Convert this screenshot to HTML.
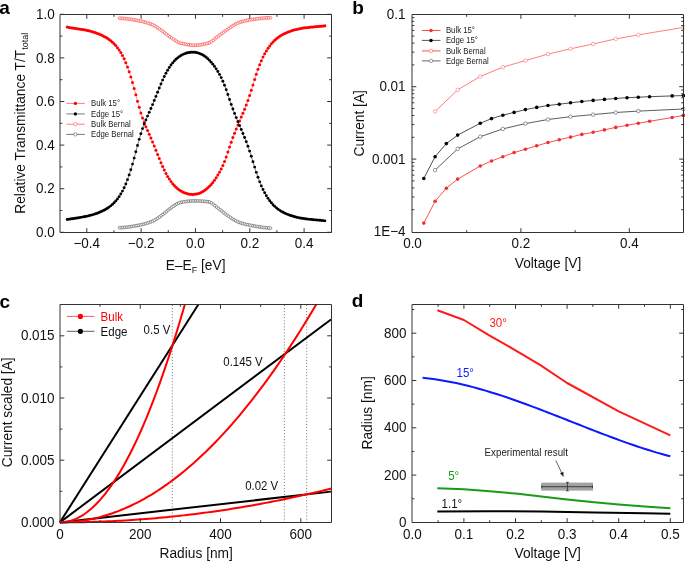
<!DOCTYPE html>
<html><head><meta charset="utf-8"><style>
html,body{margin:0;padding:0;background:#fff;}
body{width:685px;height:561px;overflow:hidden;}
svg{display:block;font-family:"Liberation Sans", sans-serif;will-change:transform;}
</style></head><body>
<svg width="685" height="561" viewBox="0 0 685 561">
<rect width="685" height="561" fill="#fff"/>
<g>
<path d="M119.67 18.22 L121.41 18.3 L123.14 18.42 L124.87 18.58 L126.6 18.76 L128.34 18.98 L130.07 19.22 L131.8 19.49 L133.53 19.77 L135.27 20.06 L137 20.37 L138.73 20.68 L140.47 21.03 L142.2 21.42 L143.93 21.85 L145.66 22.34 L147.4 22.88 L149.13 23.46 L150.86 24.1 L152.59 24.79 L154.33 25.63 L156.06 26.66 L157.79 27.82 L159.52 29.05 L161.26 30.29 L162.99 31.53 L164.72 32.86 L166.45 34.24 L168.19 35.6 L169.92 36.89 L171.65 38.05 L173.38 39.24 L175.12 40.41 L176.85 41.48 L178.58 42.38 L180.32 43.02 L182.05 43.46 L183.78 43.87 L185.51 44.25 L187.25 44.58 L188.98 44.85 L190.71 45.06 L192.44 45.2 L194.18 45.26 L195.91 45.22 L197.64 45.11 L199.37 44.93 L201.11 44.69 L202.84 44.38 L204.57 44.03 L206.3 43.63 L208.04 43.19 L209.77 42.59 L211.5 41.55 L213.24 40.22 L214.97 38.76 L216.7 37.31 L218.43 36.02 L220.17 34.73 L221.9 33.41 L223.63 32.11 L225.36 30.84 L227.1 29.65 L228.83 28.48 L230.56 27.29 L232.29 26.12 L234.03 25.01 L235.76 24 L237.49 23.14 L239.22 22.48 L240.96 21.91 L242.69 21.41 L244.42 20.95 L246.15 20.55 L247.89 20.2 L249.62 19.9 L251.35 19.64 L253.09 19.39 L254.82 19.14 L256.55 18.91 L258.28 18.69 L260.02 18.48 L261.75 18.3 L263.48 18.13 L265.21 18 L266.95 17.89 L268.68 17.82 L270.41 17.79" fill="none" stroke="#ff8080" stroke-width="0.5" stroke-linejoin="round"/>
<g fill="#fff" stroke="#ff4a4a" stroke-width="0.7"><circle cx="119.67" cy="18.22" r="1.4"/><circle cx="121.41" cy="18.3" r="1.4"/><circle cx="123.14" cy="18.42" r="1.4"/><circle cx="124.87" cy="18.58" r="1.4"/><circle cx="126.6" cy="18.76" r="1.4"/><circle cx="128.34" cy="18.98" r="1.4"/><circle cx="130.07" cy="19.22" r="1.4"/><circle cx="131.8" cy="19.49" r="1.4"/><circle cx="133.53" cy="19.77" r="1.4"/><circle cx="135.27" cy="20.06" r="1.4"/><circle cx="137" cy="20.37" r="1.4"/><circle cx="138.73" cy="20.68" r="1.4"/><circle cx="140.47" cy="21.03" r="1.4"/><circle cx="142.2" cy="21.42" r="1.4"/><circle cx="143.93" cy="21.85" r="1.4"/><circle cx="145.66" cy="22.34" r="1.4"/><circle cx="147.4" cy="22.88" r="1.4"/><circle cx="149.13" cy="23.46" r="1.4"/><circle cx="150.86" cy="24.1" r="1.4"/><circle cx="152.59" cy="24.79" r="1.4"/><circle cx="154.33" cy="25.63" r="1.4"/><circle cx="156.06" cy="26.66" r="1.4"/><circle cx="157.79" cy="27.82" r="1.4"/><circle cx="159.52" cy="29.05" r="1.4"/><circle cx="161.26" cy="30.29" r="1.4"/><circle cx="162.99" cy="31.53" r="1.4"/><circle cx="164.72" cy="32.86" r="1.4"/><circle cx="166.45" cy="34.24" r="1.4"/><circle cx="168.19" cy="35.6" r="1.4"/><circle cx="169.92" cy="36.89" r="1.4"/><circle cx="171.65" cy="38.05" r="1.4"/><circle cx="173.38" cy="39.24" r="1.4"/><circle cx="175.12" cy="40.41" r="1.4"/><circle cx="176.85" cy="41.48" r="1.4"/><circle cx="178.58" cy="42.38" r="1.4"/><circle cx="180.32" cy="43.02" r="1.4"/><circle cx="182.05" cy="43.46" r="1.4"/><circle cx="183.78" cy="43.87" r="1.4"/><circle cx="185.51" cy="44.25" r="1.4"/><circle cx="187.25" cy="44.58" r="1.4"/><circle cx="188.98" cy="44.85" r="1.4"/><circle cx="190.71" cy="45.06" r="1.4"/><circle cx="192.44" cy="45.2" r="1.4"/><circle cx="194.18" cy="45.26" r="1.4"/><circle cx="195.91" cy="45.22" r="1.4"/><circle cx="197.64" cy="45.11" r="1.4"/><circle cx="199.37" cy="44.93" r="1.4"/><circle cx="201.11" cy="44.69" r="1.4"/><circle cx="202.84" cy="44.38" r="1.4"/><circle cx="204.57" cy="44.03" r="1.4"/><circle cx="206.3" cy="43.63" r="1.4"/><circle cx="208.04" cy="43.19" r="1.4"/><circle cx="209.77" cy="42.59" r="1.4"/><circle cx="211.5" cy="41.55" r="1.4"/><circle cx="213.24" cy="40.22" r="1.4"/><circle cx="214.97" cy="38.76" r="1.4"/><circle cx="216.7" cy="37.31" r="1.4"/><circle cx="218.43" cy="36.02" r="1.4"/><circle cx="220.17" cy="34.73" r="1.4"/><circle cx="221.9" cy="33.41" r="1.4"/><circle cx="223.63" cy="32.11" r="1.4"/><circle cx="225.36" cy="30.84" r="1.4"/><circle cx="227.1" cy="29.65" r="1.4"/><circle cx="228.83" cy="28.48" r="1.4"/><circle cx="230.56" cy="27.29" r="1.4"/><circle cx="232.29" cy="26.12" r="1.4"/><circle cx="234.03" cy="25.01" r="1.4"/><circle cx="235.76" cy="24" r="1.4"/><circle cx="237.49" cy="23.14" r="1.4"/><circle cx="239.22" cy="22.48" r="1.4"/><circle cx="240.96" cy="21.91" r="1.4"/><circle cx="242.69" cy="21.41" r="1.4"/><circle cx="244.42" cy="20.95" r="1.4"/><circle cx="246.15" cy="20.55" r="1.4"/><circle cx="247.89" cy="20.2" r="1.4"/><circle cx="249.62" cy="19.9" r="1.4"/><circle cx="251.35" cy="19.64" r="1.4"/><circle cx="253.09" cy="19.39" r="1.4"/><circle cx="254.82" cy="19.14" r="1.4"/><circle cx="256.55" cy="18.91" r="1.4"/><circle cx="258.28" cy="18.69" r="1.4"/><circle cx="260.02" cy="18.48" r="1.4"/><circle cx="261.75" cy="18.3" r="1.4"/><circle cx="263.48" cy="18.13" r="1.4"/><circle cx="265.21" cy="18" r="1.4"/><circle cx="266.95" cy="17.89" r="1.4"/><circle cx="268.68" cy="17.82" r="1.4"/><circle cx="270.41" cy="17.79" r="1.4"/></g>
<path d="M119.67 227.72 L121.41 227.64 L123.14 227.52 L124.87 227.37 L126.6 227.18 L128.34 226.96 L130.07 226.72 L131.8 226.46 L133.53 226.18 L135.27 225.88 L137 225.58 L138.73 225.27 L140.47 224.92 L142.2 224.53 L143.93 224.09 L145.66 223.61 L147.4 223.07 L149.13 222.49 L150.86 221.85 L152.59 221.16 L154.33 220.32 L156.06 219.3 L157.79 218.15 L159.52 216.92 L161.26 215.66 L162.99 214.38 L164.72 212.97 L166.45 211.49 L168.19 210.02 L169.92 208.65 L171.65 207.44 L173.38 206.22 L175.12 205.02 L176.85 203.92 L178.58 203.04 L180.32 202.47 L182.05 202.15 L183.78 201.85 L185.51 201.59 L187.25 201.36 L188.98 201.17 L190.71 201.03 L192.44 200.94 L194.18 200.91 L195.91 200.92 L197.64 200.96 L199.37 201.02 L201.11 201.11 L202.84 201.23 L204.57 201.37 L206.3 201.54 L208.04 201.73 L209.77 202.11 L211.5 203 L213.24 204.25 L214.97 205.68 L216.7 207.11 L218.43 208.4 L220.17 209.75 L221.9 211.16 L223.63 212.58 L225.36 213.94 L227.1 215.21 L228.83 216.39 L230.56 217.59 L232.29 218.75 L234.03 219.84 L235.76 220.84 L237.49 221.69 L239.22 222.39 L240.96 222.97 L242.69 223.5 L244.42 223.97 L246.15 224.4 L247.89 224.78 L249.62 225.14 L251.35 225.47 L253.09 225.79 L254.82 226.1 L256.55 226.41 L258.28 226.7 L260.02 226.97 L261.75 227.22 L263.48 227.46 L265.21 227.67 L266.95 227.86 L268.68 228.02 L270.41 228.16" fill="none" stroke="#888" stroke-width="0.5" stroke-linejoin="round"/>
<g fill="#fff" stroke="#666" stroke-width="0.7"><circle cx="119.67" cy="227.72" r="1.4"/><circle cx="121.41" cy="227.64" r="1.4"/><circle cx="123.14" cy="227.52" r="1.4"/><circle cx="124.87" cy="227.37" r="1.4"/><circle cx="126.6" cy="227.18" r="1.4"/><circle cx="128.34" cy="226.96" r="1.4"/><circle cx="130.07" cy="226.72" r="1.4"/><circle cx="131.8" cy="226.46" r="1.4"/><circle cx="133.53" cy="226.18" r="1.4"/><circle cx="135.27" cy="225.88" r="1.4"/><circle cx="137" cy="225.58" r="1.4"/><circle cx="138.73" cy="225.27" r="1.4"/><circle cx="140.47" cy="224.92" r="1.4"/><circle cx="142.2" cy="224.53" r="1.4"/><circle cx="143.93" cy="224.09" r="1.4"/><circle cx="145.66" cy="223.61" r="1.4"/><circle cx="147.4" cy="223.07" r="1.4"/><circle cx="149.13" cy="222.49" r="1.4"/><circle cx="150.86" cy="221.85" r="1.4"/><circle cx="152.59" cy="221.16" r="1.4"/><circle cx="154.33" cy="220.32" r="1.4"/><circle cx="156.06" cy="219.3" r="1.4"/><circle cx="157.79" cy="218.15" r="1.4"/><circle cx="159.52" cy="216.92" r="1.4"/><circle cx="161.26" cy="215.66" r="1.4"/><circle cx="162.99" cy="214.38" r="1.4"/><circle cx="164.72" cy="212.97" r="1.4"/><circle cx="166.45" cy="211.49" r="1.4"/><circle cx="168.19" cy="210.02" r="1.4"/><circle cx="169.92" cy="208.65" r="1.4"/><circle cx="171.65" cy="207.44" r="1.4"/><circle cx="173.38" cy="206.22" r="1.4"/><circle cx="175.12" cy="205.02" r="1.4"/><circle cx="176.85" cy="203.92" r="1.4"/><circle cx="178.58" cy="203.04" r="1.4"/><circle cx="180.32" cy="202.47" r="1.4"/><circle cx="182.05" cy="202.15" r="1.4"/><circle cx="183.78" cy="201.85" r="1.4"/><circle cx="185.51" cy="201.59" r="1.4"/><circle cx="187.25" cy="201.36" r="1.4"/><circle cx="188.98" cy="201.17" r="1.4"/><circle cx="190.71" cy="201.03" r="1.4"/><circle cx="192.44" cy="200.94" r="1.4"/><circle cx="194.18" cy="200.91" r="1.4"/><circle cx="195.91" cy="200.92" r="1.4"/><circle cx="197.64" cy="200.96" r="1.4"/><circle cx="199.37" cy="201.02" r="1.4"/><circle cx="201.11" cy="201.11" r="1.4"/><circle cx="202.84" cy="201.23" r="1.4"/><circle cx="204.57" cy="201.37" r="1.4"/><circle cx="206.3" cy="201.54" r="1.4"/><circle cx="208.04" cy="201.73" r="1.4"/><circle cx="209.77" cy="202.11" r="1.4"/><circle cx="211.5" cy="203" r="1.4"/><circle cx="213.24" cy="204.25" r="1.4"/><circle cx="214.97" cy="205.68" r="1.4"/><circle cx="216.7" cy="207.11" r="1.4"/><circle cx="218.43" cy="208.4" r="1.4"/><circle cx="220.17" cy="209.75" r="1.4"/><circle cx="221.9" cy="211.16" r="1.4"/><circle cx="223.63" cy="212.58" r="1.4"/><circle cx="225.36" cy="213.94" r="1.4"/><circle cx="227.1" cy="215.21" r="1.4"/><circle cx="228.83" cy="216.39" r="1.4"/><circle cx="230.56" cy="217.59" r="1.4"/><circle cx="232.29" cy="218.75" r="1.4"/><circle cx="234.03" cy="219.84" r="1.4"/><circle cx="235.76" cy="220.84" r="1.4"/><circle cx="237.49" cy="221.69" r="1.4"/><circle cx="239.22" cy="222.39" r="1.4"/><circle cx="240.96" cy="222.97" r="1.4"/><circle cx="242.69" cy="223.5" r="1.4"/><circle cx="244.42" cy="223.97" r="1.4"/><circle cx="246.15" cy="224.4" r="1.4"/><circle cx="247.89" cy="224.78" r="1.4"/><circle cx="249.62" cy="225.14" r="1.4"/><circle cx="251.35" cy="225.47" r="1.4"/><circle cx="253.09" cy="225.79" r="1.4"/><circle cx="254.82" cy="226.1" r="1.4"/><circle cx="256.55" cy="226.41" r="1.4"/><circle cx="258.28" cy="226.7" r="1.4"/><circle cx="260.02" cy="226.97" r="1.4"/><circle cx="261.75" cy="227.22" r="1.4"/><circle cx="263.48" cy="227.46" r="1.4"/><circle cx="265.21" cy="227.67" r="1.4"/><circle cx="266.95" cy="227.86" r="1.4"/><circle cx="268.68" cy="228.02" r="1.4"/><circle cx="270.41" cy="228.16" r="1.4"/></g>
<path d="M67.25 27.12 L68.93 27.39 L70.6 27.65 L72.27 27.91 L73.95 28.16 L75.62 28.41 L77.29 28.66 L78.97 28.92 L80.64 29.19 L82.31 29.48 L83.99 29.79 L85.66 30.12 L87.33 30.48 L89 30.87 L90.68 31.29 L92.35 31.75 L94.02 32.26 L95.7 32.81 L97.37 33.42 L99.04 34.08 L100.72 34.79 L102.39 35.57 L104.06 36.42 L105.74 37.34 L107.41 38.36 L109.08 39.49 L110.75 40.76 L112.43 42.19 L114.1 43.79 L115.77 45.61 L117.45 47.65 L119.12 49.94 L120.79 52.54 L122.47 55.5 L124.14 58.85 L125.81 62.65 L127.48 66.93 L129.16 71.69 L130.83 76.88 L132.5 82.49 L134.18 88.49 L135.85 94.8 L137.52 101.16 L139.2 107.27 L140.87 112.9 L142.54 118 L144.22 122.58 L145.89 126.69 L147.56 130.51 L149.23 134.24 L150.91 138.07 L152.58 142.01 L154.25 146.06 L155.93 150.22 L157.6 154.42 L159.27 158.58 L160.95 162.63 L162.62 166.5 L164.29 170.11 L165.97 173.41 L167.64 176.4 L169.31 179.1 L170.98 181.53 L172.66 183.69 L174.33 185.61 L176 187.29 L177.68 188.76 L179.35 190.02 L181.02 191.09 L182.7 191.99 L184.37 192.73 L186.04 193.33 L187.71 193.79 L189.39 194.13 L191.06 194.34 L192.73 194.4 L194.41 194.32 L196.08 194.1 L197.75 193.72 L199.43 193.17 L201.1 192.47 L202.77 191.59 L204.45 190.53 L206.12 189.3 L207.79 187.87 L209.46 186.26 L211.14 184.44 L212.81 182.43 L214.48 180.21 L216.16 177.77 L217.83 175.11 L219.5 172.21 L221.18 169 L222.85 165.42 L224.52 161.42 L226.2 156.93 L227.87 152.05 L229.54 147.05 L231.21 142.19 L232.89 137.59 L234.56 133.21 L236.23 129.01 L237.91 124.95 L239.58 120.99 L241.25 117.09 L242.93 113.17 L244.6 109.16 L246.27 104.94 L247.94 100.41 L249.62 95.51 L251.29 90.29 L252.96 84.9 L254.64 79.5 L256.31 74.24 L257.98 69.28 L259.66 64.74 L261.33 60.68 L263 57.05 L264.68 53.8 L266.35 50.89 L268.02 48.27 L269.69 45.92 L271.37 43.81 L273.04 41.92 L274.71 40.25 L276.39 38.75 L278.06 37.43 L279.73 36.26 L281.41 35.22 L283.08 34.29 L284.75 33.46 L286.43 32.7 L288.1 32.01 L289.77 31.38 L291.44 30.81 L293.12 30.29 L294.79 29.82 L296.46 29.39 L298.14 29.01 L299.81 28.67 L301.48 28.37 L303.16 28.09 L304.83 27.85 L306.5 27.63 L308.17 27.43 L309.85 27.24 L311.52 27.07 L313.19 26.91 L314.87 26.76 L316.54 26.61 L318.21 26.45 L319.89 26.29 L321.56 26.13 L323.23 25.95 L324.91 25.75" fill="none" stroke="#ff3030" stroke-width="0.5" stroke-linejoin="round"/>
<g fill="#ff0000"><circle cx="67.25" cy="27.12" r="1.5"/><circle cx="68.93" cy="27.39" r="1.5"/><circle cx="70.6" cy="27.65" r="1.5"/><circle cx="72.27" cy="27.91" r="1.5"/><circle cx="73.95" cy="28.16" r="1.5"/><circle cx="75.62" cy="28.41" r="1.5"/><circle cx="77.29" cy="28.66" r="1.5"/><circle cx="78.97" cy="28.92" r="1.5"/><circle cx="80.64" cy="29.19" r="1.5"/><circle cx="82.31" cy="29.48" r="1.5"/><circle cx="83.99" cy="29.79" r="1.5"/><circle cx="85.66" cy="30.12" r="1.5"/><circle cx="87.33" cy="30.48" r="1.5"/><circle cx="89" cy="30.87" r="1.5"/><circle cx="90.68" cy="31.29" r="1.5"/><circle cx="92.35" cy="31.75" r="1.5"/><circle cx="94.02" cy="32.26" r="1.5"/><circle cx="95.7" cy="32.81" r="1.5"/><circle cx="97.37" cy="33.42" r="1.5"/><circle cx="99.04" cy="34.08" r="1.5"/><circle cx="100.72" cy="34.79" r="1.5"/><circle cx="102.39" cy="35.57" r="1.5"/><circle cx="104.06" cy="36.42" r="1.5"/><circle cx="105.74" cy="37.34" r="1.5"/><circle cx="107.41" cy="38.36" r="1.5"/><circle cx="109.08" cy="39.49" r="1.5"/><circle cx="110.75" cy="40.76" r="1.5"/><circle cx="112.43" cy="42.19" r="1.5"/><circle cx="114.1" cy="43.79" r="1.5"/><circle cx="115.77" cy="45.61" r="1.5"/><circle cx="117.45" cy="47.65" r="1.5"/><circle cx="119.12" cy="49.94" r="1.5"/><circle cx="120.79" cy="52.54" r="1.5"/><circle cx="122.47" cy="55.5" r="1.5"/><circle cx="124.14" cy="58.85" r="1.5"/><circle cx="125.81" cy="62.65" r="1.5"/><circle cx="127.48" cy="66.93" r="1.5"/><circle cx="129.16" cy="71.69" r="1.5"/><circle cx="130.83" cy="76.88" r="1.5"/><circle cx="132.5" cy="82.49" r="1.5"/><circle cx="134.18" cy="88.49" r="1.5"/><circle cx="135.85" cy="94.8" r="1.5"/><circle cx="137.52" cy="101.16" r="1.5"/><circle cx="139.2" cy="107.27" r="1.5"/><circle cx="140.87" cy="112.9" r="1.5"/><circle cx="142.54" cy="118" r="1.5"/><circle cx="144.22" cy="122.58" r="1.5"/><circle cx="145.89" cy="126.69" r="1.5"/><circle cx="147.56" cy="130.51" r="1.5"/><circle cx="149.23" cy="134.24" r="1.5"/><circle cx="150.91" cy="138.07" r="1.5"/><circle cx="152.58" cy="142.01" r="1.5"/><circle cx="154.25" cy="146.06" r="1.5"/><circle cx="155.93" cy="150.22" r="1.5"/><circle cx="157.6" cy="154.42" r="1.5"/><circle cx="159.27" cy="158.58" r="1.5"/><circle cx="160.95" cy="162.63" r="1.5"/><circle cx="162.62" cy="166.5" r="1.5"/><circle cx="164.29" cy="170.11" r="1.5"/><circle cx="165.97" cy="173.41" r="1.5"/><circle cx="167.64" cy="176.4" r="1.5"/><circle cx="169.31" cy="179.1" r="1.5"/><circle cx="170.98" cy="181.53" r="1.5"/><circle cx="172.66" cy="183.69" r="1.5"/><circle cx="174.33" cy="185.61" r="1.5"/><circle cx="176" cy="187.29" r="1.5"/><circle cx="177.68" cy="188.76" r="1.5"/><circle cx="179.35" cy="190.02" r="1.5"/><circle cx="181.02" cy="191.09" r="1.5"/><circle cx="182.7" cy="191.99" r="1.5"/><circle cx="184.37" cy="192.73" r="1.5"/><circle cx="186.04" cy="193.33" r="1.5"/><circle cx="187.71" cy="193.79" r="1.5"/><circle cx="189.39" cy="194.13" r="1.5"/><circle cx="191.06" cy="194.34" r="1.5"/><circle cx="192.73" cy="194.4" r="1.5"/><circle cx="194.41" cy="194.32" r="1.5"/><circle cx="196.08" cy="194.1" r="1.5"/><circle cx="197.75" cy="193.72" r="1.5"/><circle cx="199.43" cy="193.17" r="1.5"/><circle cx="201.1" cy="192.47" r="1.5"/><circle cx="202.77" cy="191.59" r="1.5"/><circle cx="204.45" cy="190.53" r="1.5"/><circle cx="206.12" cy="189.3" r="1.5"/><circle cx="207.79" cy="187.87" r="1.5"/><circle cx="209.46" cy="186.26" r="1.5"/><circle cx="211.14" cy="184.44" r="1.5"/><circle cx="212.81" cy="182.43" r="1.5"/><circle cx="214.48" cy="180.21" r="1.5"/><circle cx="216.16" cy="177.77" r="1.5"/><circle cx="217.83" cy="175.11" r="1.5"/><circle cx="219.5" cy="172.21" r="1.5"/><circle cx="221.18" cy="169" r="1.5"/><circle cx="222.85" cy="165.42" r="1.5"/><circle cx="224.52" cy="161.42" r="1.5"/><circle cx="226.2" cy="156.93" r="1.5"/><circle cx="227.87" cy="152.05" r="1.5"/><circle cx="229.54" cy="147.05" r="1.5"/><circle cx="231.21" cy="142.19" r="1.5"/><circle cx="232.89" cy="137.59" r="1.5"/><circle cx="234.56" cy="133.21" r="1.5"/><circle cx="236.23" cy="129.01" r="1.5"/><circle cx="237.91" cy="124.95" r="1.5"/><circle cx="239.58" cy="120.99" r="1.5"/><circle cx="241.25" cy="117.09" r="1.5"/><circle cx="242.93" cy="113.17" r="1.5"/><circle cx="244.6" cy="109.16" r="1.5"/><circle cx="246.27" cy="104.94" r="1.5"/><circle cx="247.94" cy="100.41" r="1.5"/><circle cx="249.62" cy="95.51" r="1.5"/><circle cx="251.29" cy="90.29" r="1.5"/><circle cx="252.96" cy="84.9" r="1.5"/><circle cx="254.64" cy="79.5" r="1.5"/><circle cx="256.31" cy="74.24" r="1.5"/><circle cx="257.98" cy="69.28" r="1.5"/><circle cx="259.66" cy="64.74" r="1.5"/><circle cx="261.33" cy="60.68" r="1.5"/><circle cx="263" cy="57.05" r="1.5"/><circle cx="264.68" cy="53.8" r="1.5"/><circle cx="266.35" cy="50.89" r="1.5"/><circle cx="268.02" cy="48.27" r="1.5"/><circle cx="269.69" cy="45.92" r="1.5"/><circle cx="271.37" cy="43.81" r="1.5"/><circle cx="273.04" cy="41.92" r="1.5"/><circle cx="274.71" cy="40.25" r="1.5"/><circle cx="276.39" cy="38.75" r="1.5"/><circle cx="278.06" cy="37.43" r="1.5"/><circle cx="279.73" cy="36.26" r="1.5"/><circle cx="281.41" cy="35.22" r="1.5"/><circle cx="283.08" cy="34.29" r="1.5"/><circle cx="284.75" cy="33.46" r="1.5"/><circle cx="286.43" cy="32.7" r="1.5"/><circle cx="288.1" cy="32.01" r="1.5"/><circle cx="289.77" cy="31.38" r="1.5"/><circle cx="291.44" cy="30.81" r="1.5"/><circle cx="293.12" cy="30.29" r="1.5"/><circle cx="294.79" cy="29.82" r="1.5"/><circle cx="296.46" cy="29.39" r="1.5"/><circle cx="298.14" cy="29.01" r="1.5"/><circle cx="299.81" cy="28.67" r="1.5"/><circle cx="301.48" cy="28.37" r="1.5"/><circle cx="303.16" cy="28.09" r="1.5"/><circle cx="304.83" cy="27.85" r="1.5"/><circle cx="306.5" cy="27.63" r="1.5"/><circle cx="308.17" cy="27.43" r="1.5"/><circle cx="309.85" cy="27.24" r="1.5"/><circle cx="311.52" cy="27.07" r="1.5"/><circle cx="313.19" cy="26.91" r="1.5"/><circle cx="314.87" cy="26.76" r="1.5"/><circle cx="316.54" cy="26.61" r="1.5"/><circle cx="318.21" cy="26.45" r="1.5"/><circle cx="319.89" cy="26.29" r="1.5"/><circle cx="321.56" cy="26.13" r="1.5"/><circle cx="323.23" cy="25.95" r="1.5"/><circle cx="324.91" cy="25.75" r="1.5"/></g>
<path d="M67.25 219.48 L68.93 219.21 L70.6 218.95 L72.27 218.69 L73.95 218.44 L75.62 218.19 L77.29 217.94 L78.97 217.68 L80.64 217.41 L82.31 217.12 L83.99 216.81 L85.66 216.48 L87.33 216.12 L89 215.73 L90.68 215.31 L92.35 214.85 L94.02 214.34 L95.7 213.79 L97.37 213.18 L99.04 212.52 L100.72 211.81 L102.39 211.03 L104.06 210.18 L105.74 209.26 L107.41 208.24 L109.08 207.11 L110.75 205.84 L112.43 204.41 L114.1 202.81 L115.77 200.99 L117.45 198.95 L119.12 196.66 L120.79 194.06 L122.47 191.1 L124.14 187.75 L125.81 183.95 L127.48 179.67 L129.16 174.91 L130.83 169.72 L132.5 164.11 L134.18 158.11 L135.85 151.8 L137.52 145.44 L139.2 139.33 L140.87 133.7 L142.54 128.6 L144.22 124.02 L145.89 119.91 L147.56 116.09 L149.23 112.36 L150.91 108.53 L152.58 104.59 L154.25 100.54 L155.93 96.38 L157.6 92.18 L159.27 88.02 L160.95 83.97 L162.62 80.1 L164.29 76.49 L165.97 73.19 L167.64 70.2 L169.31 67.5 L170.98 65.07 L172.66 62.91 L174.33 60.99 L176 59.31 L177.68 57.84 L179.35 56.58 L181.02 55.51 L182.7 54.61 L184.37 53.87 L186.04 53.27 L187.71 52.81 L189.39 52.47 L191.06 52.26 L192.73 52.2 L194.41 52.28 L196.08 52.5 L197.75 52.88 L199.43 53.43 L201.1 54.13 L202.77 55.01 L204.45 56.07 L206.12 57.3 L207.79 58.73 L209.46 60.34 L211.14 62.16 L212.81 64.17 L214.48 66.39 L216.16 68.83 L217.83 71.49 L219.5 74.39 L221.18 77.6 L222.85 81.18 L224.52 85.18 L226.2 89.67 L227.87 94.55 L229.54 99.55 L231.21 104.41 L232.89 109.01 L234.56 113.39 L236.23 117.59 L237.91 121.65 L239.58 125.61 L241.25 129.51 L242.93 133.43 L244.6 137.44 L246.27 141.66 L247.94 146.19 L249.62 151.09 L251.29 156.31 L252.96 161.7 L254.64 167.1 L256.31 172.36 L257.98 177.32 L259.66 181.86 L261.33 185.92 L263 189.55 L264.68 192.8 L266.35 195.71 L268.02 198.33 L269.69 200.68 L271.37 202.79 L273.04 204.68 L274.71 206.35 L276.39 207.85 L278.06 209.17 L279.73 210.34 L281.41 211.38 L283.08 212.31 L284.75 213.14 L286.43 213.9 L288.1 214.59 L289.77 215.22 L291.44 215.79 L293.12 216.31 L294.79 216.78 L296.46 217.21 L298.14 217.59 L299.81 217.93 L301.48 218.23 L303.16 218.51 L304.83 218.75 L306.5 218.97 L308.17 219.17 L309.85 219.36 L311.52 219.53 L313.19 219.69 L314.87 219.84 L316.54 219.99 L318.21 220.15 L319.89 220.31 L321.56 220.47 L323.23 220.65 L324.91 220.85" fill="none" stroke="#000" stroke-width="0.5" stroke-linejoin="round"/>
<g fill="#000"><circle cx="67.25" cy="219.48" r="1.45"/><circle cx="68.93" cy="219.21" r="1.45"/><circle cx="70.6" cy="218.95" r="1.45"/><circle cx="72.27" cy="218.69" r="1.45"/><circle cx="73.95" cy="218.44" r="1.45"/><circle cx="75.62" cy="218.19" r="1.45"/><circle cx="77.29" cy="217.94" r="1.45"/><circle cx="78.97" cy="217.68" r="1.45"/><circle cx="80.64" cy="217.41" r="1.45"/><circle cx="82.31" cy="217.12" r="1.45"/><circle cx="83.99" cy="216.81" r="1.45"/><circle cx="85.66" cy="216.48" r="1.45"/><circle cx="87.33" cy="216.12" r="1.45"/><circle cx="89" cy="215.73" r="1.45"/><circle cx="90.68" cy="215.31" r="1.45"/><circle cx="92.35" cy="214.85" r="1.45"/><circle cx="94.02" cy="214.34" r="1.45"/><circle cx="95.7" cy="213.79" r="1.45"/><circle cx="97.37" cy="213.18" r="1.45"/><circle cx="99.04" cy="212.52" r="1.45"/><circle cx="100.72" cy="211.81" r="1.45"/><circle cx="102.39" cy="211.03" r="1.45"/><circle cx="104.06" cy="210.18" r="1.45"/><circle cx="105.74" cy="209.26" r="1.45"/><circle cx="107.41" cy="208.24" r="1.45"/><circle cx="109.08" cy="207.11" r="1.45"/><circle cx="110.75" cy="205.84" r="1.45"/><circle cx="112.43" cy="204.41" r="1.45"/><circle cx="114.1" cy="202.81" r="1.45"/><circle cx="115.77" cy="200.99" r="1.45"/><circle cx="117.45" cy="198.95" r="1.45"/><circle cx="119.12" cy="196.66" r="1.45"/><circle cx="120.79" cy="194.06" r="1.45"/><circle cx="122.47" cy="191.1" r="1.45"/><circle cx="124.14" cy="187.75" r="1.45"/><circle cx="125.81" cy="183.95" r="1.45"/><circle cx="127.48" cy="179.67" r="1.45"/><circle cx="129.16" cy="174.91" r="1.45"/><circle cx="130.83" cy="169.72" r="1.45"/><circle cx="132.5" cy="164.11" r="1.45"/><circle cx="134.18" cy="158.11" r="1.45"/><circle cx="135.85" cy="151.8" r="1.45"/><circle cx="137.52" cy="145.44" r="1.45"/><circle cx="139.2" cy="139.33" r="1.45"/><circle cx="140.87" cy="133.7" r="1.45"/><circle cx="142.54" cy="128.6" r="1.45"/><circle cx="144.22" cy="124.02" r="1.45"/><circle cx="145.89" cy="119.91" r="1.45"/><circle cx="147.56" cy="116.09" r="1.45"/><circle cx="149.23" cy="112.36" r="1.45"/><circle cx="150.91" cy="108.53" r="1.45"/><circle cx="152.58" cy="104.59" r="1.45"/><circle cx="154.25" cy="100.54" r="1.45"/><circle cx="155.93" cy="96.38" r="1.45"/><circle cx="157.6" cy="92.18" r="1.45"/><circle cx="159.27" cy="88.02" r="1.45"/><circle cx="160.95" cy="83.97" r="1.45"/><circle cx="162.62" cy="80.1" r="1.45"/><circle cx="164.29" cy="76.49" r="1.45"/><circle cx="165.97" cy="73.19" r="1.45"/><circle cx="167.64" cy="70.2" r="1.45"/><circle cx="169.31" cy="67.5" r="1.45"/><circle cx="170.98" cy="65.07" r="1.45"/><circle cx="172.66" cy="62.91" r="1.45"/><circle cx="174.33" cy="60.99" r="1.45"/><circle cx="176" cy="59.31" r="1.45"/><circle cx="177.68" cy="57.84" r="1.45"/><circle cx="179.35" cy="56.58" r="1.45"/><circle cx="181.02" cy="55.51" r="1.45"/><circle cx="182.7" cy="54.61" r="1.45"/><circle cx="184.37" cy="53.87" r="1.45"/><circle cx="186.04" cy="53.27" r="1.45"/><circle cx="187.71" cy="52.81" r="1.45"/><circle cx="189.39" cy="52.47" r="1.45"/><circle cx="191.06" cy="52.26" r="1.45"/><circle cx="192.73" cy="52.2" r="1.45"/><circle cx="194.41" cy="52.28" r="1.45"/><circle cx="196.08" cy="52.5" r="1.45"/><circle cx="197.75" cy="52.88" r="1.45"/><circle cx="199.43" cy="53.43" r="1.45"/><circle cx="201.1" cy="54.13" r="1.45"/><circle cx="202.77" cy="55.01" r="1.45"/><circle cx="204.45" cy="56.07" r="1.45"/><circle cx="206.12" cy="57.3" r="1.45"/><circle cx="207.79" cy="58.73" r="1.45"/><circle cx="209.46" cy="60.34" r="1.45"/><circle cx="211.14" cy="62.16" r="1.45"/><circle cx="212.81" cy="64.17" r="1.45"/><circle cx="214.48" cy="66.39" r="1.45"/><circle cx="216.16" cy="68.83" r="1.45"/><circle cx="217.83" cy="71.49" r="1.45"/><circle cx="219.5" cy="74.39" r="1.45"/><circle cx="221.18" cy="77.6" r="1.45"/><circle cx="222.85" cy="81.18" r="1.45"/><circle cx="224.52" cy="85.18" r="1.45"/><circle cx="226.2" cy="89.67" r="1.45"/><circle cx="227.87" cy="94.55" r="1.45"/><circle cx="229.54" cy="99.55" r="1.45"/><circle cx="231.21" cy="104.41" r="1.45"/><circle cx="232.89" cy="109.01" r="1.45"/><circle cx="234.56" cy="113.39" r="1.45"/><circle cx="236.23" cy="117.59" r="1.45"/><circle cx="237.91" cy="121.65" r="1.45"/><circle cx="239.58" cy="125.61" r="1.45"/><circle cx="241.25" cy="129.51" r="1.45"/><circle cx="242.93" cy="133.43" r="1.45"/><circle cx="244.6" cy="137.44" r="1.45"/><circle cx="246.27" cy="141.66" r="1.45"/><circle cx="247.94" cy="146.19" r="1.45"/><circle cx="249.62" cy="151.09" r="1.45"/><circle cx="251.29" cy="156.31" r="1.45"/><circle cx="252.96" cy="161.7" r="1.45"/><circle cx="254.64" cy="167.1" r="1.45"/><circle cx="256.31" cy="172.36" r="1.45"/><circle cx="257.98" cy="177.32" r="1.45"/><circle cx="259.66" cy="181.86" r="1.45"/><circle cx="261.33" cy="185.92" r="1.45"/><circle cx="263" cy="189.55" r="1.45"/><circle cx="264.68" cy="192.8" r="1.45"/><circle cx="266.35" cy="195.71" r="1.45"/><circle cx="268.02" cy="198.33" r="1.45"/><circle cx="269.69" cy="200.68" r="1.45"/><circle cx="271.37" cy="202.79" r="1.45"/><circle cx="273.04" cy="204.68" r="1.45"/><circle cx="274.71" cy="206.35" r="1.45"/><circle cx="276.39" cy="207.85" r="1.45"/><circle cx="278.06" cy="209.17" r="1.45"/><circle cx="279.73" cy="210.34" r="1.45"/><circle cx="281.41" cy="211.38" r="1.45"/><circle cx="283.08" cy="212.31" r="1.45"/><circle cx="284.75" cy="213.14" r="1.45"/><circle cx="286.43" cy="213.9" r="1.45"/><circle cx="288.1" cy="214.59" r="1.45"/><circle cx="289.77" cy="215.22" r="1.45"/><circle cx="291.44" cy="215.79" r="1.45"/><circle cx="293.12" cy="216.31" r="1.45"/><circle cx="294.79" cy="216.78" r="1.45"/><circle cx="296.46" cy="217.21" r="1.45"/><circle cx="298.14" cy="217.59" r="1.45"/><circle cx="299.81" cy="217.93" r="1.45"/><circle cx="301.48" cy="218.23" r="1.45"/><circle cx="303.16" cy="218.51" r="1.45"/><circle cx="304.83" cy="218.75" r="1.45"/><circle cx="306.5" cy="218.97" r="1.45"/><circle cx="308.17" cy="219.17" r="1.45"/><circle cx="309.85" cy="219.36" r="1.45"/><circle cx="311.52" cy="219.53" r="1.45"/><circle cx="313.19" cy="219.69" r="1.45"/><circle cx="314.87" cy="219.84" r="1.45"/><circle cx="316.54" cy="219.99" r="1.45"/><circle cx="318.21" cy="220.15" r="1.45"/><circle cx="319.89" cy="220.31" r="1.45"/><circle cx="321.56" cy="220.47" r="1.45"/><circle cx="323.23" cy="220.65" r="1.45"/><circle cx="324.91" cy="220.85" r="1.45"/></g>
</g>
<path d="M60 14.5H331.5V232.5H60Z" fill="none" stroke="#333" stroke-width="1"/>
<path d="M86.81 232.5v-4.3M86.81 14.5v4.3M141.13 232.5v-4.3M141.13 14.5v4.3M195.45 232.5v-4.3M195.45 14.5v4.3M249.77 232.5v-4.3M249.77 14.5v4.3M304.09 232.5v-4.3M304.09 14.5v4.3" stroke="#333" stroke-width="1" fill="none"/>
<path d="M113.97 232.5v-2.3M113.97 14.5v2.3M168.29 232.5v-2.3M168.29 14.5v2.3M222.61 232.5v-2.3M222.61 14.5v2.3M276.93 232.5v-2.3M276.93 14.5v2.3" stroke="#333" stroke-width="1" fill="none"/>
<path d="M60 232.3h4.3M331.5 232.3h-4.3M60 188.7h4.3M331.5 188.7h-4.3M60 145.1h4.3M331.5 145.1h-4.3M60 101.5h4.3M331.5 101.5h-4.3M60 57.9h4.3M331.5 57.9h-4.3M60 14.3h4.3M331.5 14.3h-4.3" stroke="#333" stroke-width="1" fill="none"/>
<path d="M60 210.5h2.3M331.5 210.5h-2.3M60 166.9h2.3M331.5 166.9h-2.3M60 123.3h2.3M331.5 123.3h-2.3M60 79.7h2.3M331.5 79.7h-2.3M60 36.1h2.3M331.5 36.1h-2.3" stroke="#333" stroke-width="1" fill="none"/>
<text transform="translate(54.8 236.9) scale(0.95 1)" font-size="14.2" text-anchor="end" fill="#111" >0.0</text>
<text transform="translate(54.8 193.3) scale(0.95 1)" font-size="14.2" text-anchor="end" fill="#111" >0.2</text>
<text transform="translate(54.8 149.7) scale(0.95 1)" font-size="14.2" text-anchor="end" fill="#111" >0.4</text>
<text transform="translate(54.8 106.1) scale(0.95 1)" font-size="14.2" text-anchor="end" fill="#111" >0.6</text>
<text transform="translate(54.8 62.5) scale(0.95 1)" font-size="14.2" text-anchor="end" fill="#111" >0.8</text>
<text transform="translate(54.8 18.9) scale(0.95 1)" font-size="14.2" text-anchor="end" fill="#111" >1.0</text>
<text transform="translate(86.81 248.4) scale(0.95 1)" font-size="14.2" text-anchor="middle" fill="#111" >−0.4</text>
<text transform="translate(141.13 248.4) scale(0.95 1)" font-size="14.2" text-anchor="middle" fill="#111" >−0.2</text>
<text transform="translate(195.45 248.4) scale(0.95 1)" font-size="14.2" text-anchor="middle" fill="#111" >0.0</text>
<text transform="translate(249.77 248.4) scale(0.95 1)" font-size="14.2" text-anchor="middle" fill="#111" >0.2</text>
<text transform="translate(304.09 248.4) scale(0.95 1)" font-size="14.2" text-anchor="middle" fill="#111" >0.4</text>
<text transform="translate(195.6 269.8) scale(0.955 1)" font-size="14.4" text-anchor="middle" fill="#111" >E–E<tspan font-size="9.5" dy="3">F</tspan><tspan dy="-3"> [eV]</tspan></text>
<text transform="translate(24.5 123.2) rotate(-90) scale(0.955 1)" font-size="14.4" text-anchor="middle" fill="#111">Relative Transmittance T/T<tspan font-size="9.5" dy="3">total</tspan></text>
<path d="M66.4 103.4H84.8" stroke="#ff6060" stroke-width="0.8"/>
<circle cx="75.4" cy="103.4" r="1.65" fill="#ff0000"/>
<text transform="translate(91 106.1) scale(0.95 1)" font-size="8.2" text-anchor="start" fill="#222" >Bulk 15°</text>
<path d="M66.4 113.9H84.8" stroke="#999" stroke-width="1.3"/>
<circle cx="75.4" cy="113.9" r="1.65" fill="#000"/>
<text transform="translate(91 116.6) scale(0.95 1)" font-size="8.2" text-anchor="start" fill="#222" >Edge 15°</text>
<path d="M66.4 124.2H84.8" stroke="#ff6060" stroke-width="0.8"/>
<circle cx="75.4" cy="124.2" r="1.65" fill="#fff" stroke="#ff5050" stroke-width="0.6"/>
<text transform="translate(91 126.9) scale(0.95 1)" font-size="8.2" text-anchor="start" fill="#222" >Bulk Bernal</text>
<path d="M66.4 134.4H84.8" stroke="#555" stroke-width="0.8"/>
<circle cx="75.4" cy="134.4" r="1.65" fill="#fff" stroke="#555" stroke-width="0.6"/>
<text transform="translate(91 137.1) scale(0.95 1)" font-size="8.2" text-anchor="start" fill="#222" >Edge Bernal</text>
<text x="-0.8" y="13.9" font-size="19" font-weight="bold" fill="#000">a</text>
<g>
<path d="M435.08 111.5 L457.66 89.9 L480.24 76.5 L502.82 67.2 L525.4 60.6 L547.98 54.1 L570.56 48.8 L593.14 44 L615.72 38.9 L638.3 34.9 L683.46 27.4" fill="none" stroke="#ff7070" stroke-width="0.9" stroke-linejoin="round"/>
<g fill="#fff" stroke="#ff7070" stroke-width="0.6"><circle cx="435.08" cy="111.5" r="1.75"/><circle cx="457.66" cy="89.9" r="1.75"/><circle cx="480.24" cy="76.5" r="1.75"/><circle cx="502.82" cy="67.2" r="1.75"/><circle cx="525.4" cy="60.6" r="1.75"/><circle cx="547.98" cy="54.1" r="1.75"/><circle cx="570.56" cy="48.8" r="1.75"/><circle cx="593.14" cy="44" r="1.75"/><circle cx="615.72" cy="38.9" r="1.75"/><circle cx="638.3" cy="34.9" r="1.75"/><circle cx="683.46" cy="27.4" r="1.75"/></g>
<path d="M435.08 170.1 L457.66 148.9 L480.24 136.7 L502.82 128.9 L525.4 123.6 L547.98 119.5 L570.56 116.7 L593.14 114.6 L615.72 112.5 L638.3 111.1 L683.46 109" fill="none" stroke="#333" stroke-width="0.8" stroke-linejoin="round"/>
<g fill="#fff" stroke="#555" stroke-width="0.6"><circle cx="435.08" cy="170.1" r="1.75"/><circle cx="457.66" cy="148.9" r="1.75"/><circle cx="480.24" cy="136.7" r="1.75"/><circle cx="502.82" cy="128.9" r="1.75"/><circle cx="525.4" cy="123.6" r="1.75"/><circle cx="547.98" cy="119.5" r="1.75"/><circle cx="570.56" cy="116.7" r="1.75"/><circle cx="593.14" cy="114.6" r="1.75"/><circle cx="615.72" cy="112.5" r="1.75"/><circle cx="638.3" cy="111.1" r="1.75"/><circle cx="683.46" cy="109" r="1.75"/></g>
<path d="M423.79 178.5 L435.08 156.7 L446.37 143.6 L457.66 135.1 L480.24 123.3 L491.53 118.6 L502.82 115.2 L514.11 112.4 L525.4 109.6 L536.69 107.4 L547.98 105.5 L559.27 104.2 L570.56 102.8 L581.85 101.5 L593.14 100.4 L604.43 99.4 L615.72 98.5 L627.01 97.7 L638.3 97.2 L649.59 96.7 L672.17 95.9 L683.46 95.6" fill="none" stroke="#222" stroke-width="0.8" stroke-linejoin="round"/>
<g fill="#000"><circle cx="423.79" cy="178.5" r="1.8"/><circle cx="435.08" cy="156.7" r="1.8"/><circle cx="446.37" cy="143.6" r="1.8"/><circle cx="457.66" cy="135.1" r="1.8"/><circle cx="480.24" cy="123.3" r="1.8"/><circle cx="491.53" cy="118.6" r="1.8"/><circle cx="502.82" cy="115.2" r="1.8"/><circle cx="514.11" cy="112.4" r="1.8"/><circle cx="525.4" cy="109.6" r="1.8"/><circle cx="536.69" cy="107.4" r="1.8"/><circle cx="547.98" cy="105.5" r="1.8"/><circle cx="559.27" cy="104.2" r="1.8"/><circle cx="570.56" cy="102.8" r="1.8"/><circle cx="581.85" cy="101.5" r="1.8"/><circle cx="593.14" cy="100.4" r="1.8"/><circle cx="604.43" cy="99.4" r="1.8"/><circle cx="615.72" cy="98.5" r="1.8"/><circle cx="627.01" cy="97.7" r="1.8"/><circle cx="638.3" cy="97.2" r="1.8"/><circle cx="649.59" cy="96.7" r="1.8"/><circle cx="672.17" cy="95.9" r="1.8"/><circle cx="683.46" cy="95.6" r="1.8"/></g>
<path d="M423.79 223.1 L435.08 201.3 L446.37 188.2 L457.66 179.1 L480.24 166 L491.53 161 L502.82 156.7 L514.11 152.6 L525.4 149.2 L536.69 145.8 L547.98 142.5 L559.27 139.7 L570.56 137.1 L581.85 134.4 L593.14 132.3 L604.43 129.9 L615.72 127.4 L627.01 125.3 L638.3 123.2 L649.59 121.3 L672.17 117.5 L683.46 115.4" fill="none" stroke="#ff3a3a" stroke-width="0.9" stroke-linejoin="round"/>
<g fill="#f03030"><circle cx="423.79" cy="223.1" r="1.8"/><circle cx="435.08" cy="201.3" r="1.8"/><circle cx="446.37" cy="188.2" r="1.8"/><circle cx="457.66" cy="179.1" r="1.8"/><circle cx="480.24" cy="166" r="1.8"/><circle cx="491.53" cy="161" r="1.8"/><circle cx="502.82" cy="156.7" r="1.8"/><circle cx="514.11" cy="152.6" r="1.8"/><circle cx="525.4" cy="149.2" r="1.8"/><circle cx="536.69" cy="145.8" r="1.8"/><circle cx="547.98" cy="142.5" r="1.8"/><circle cx="559.27" cy="139.7" r="1.8"/><circle cx="570.56" cy="137.1" r="1.8"/><circle cx="581.85" cy="134.4" r="1.8"/><circle cx="593.14" cy="132.3" r="1.8"/><circle cx="604.43" cy="129.9" r="1.8"/><circle cx="615.72" cy="127.4" r="1.8"/><circle cx="627.01" cy="125.3" r="1.8"/><circle cx="638.3" cy="123.2" r="1.8"/><circle cx="649.59" cy="121.3" r="1.8"/><circle cx="672.17" cy="117.5" r="1.8"/><circle cx="683.46" cy="115.4" r="1.8"/></g>
</g>
<path d="M412 14.5H683.5V232.5H412Z" fill="none" stroke="#333" stroke-width="1"/>
<path d="M520.9 232.5v-4.3M520.9 14.5v4.3M629.3 232.5v-4.3M629.3 14.5v4.3" stroke="#333" stroke-width="1" fill="none"/>
<path d="M466.7 232.5v-2.3M466.7 14.5v2.3M575.1 232.5v-2.3M575.1 14.5v2.3" stroke="#333" stroke-width="1" fill="none"/>
<path d="M412 159.1h4.3M683.5 159.1h-4.3M412 86.7h4.3M683.5 86.7h-4.3" stroke="#333" stroke-width="1" fill="none"/>
<path d="M412 209.71h2.3M683.5 209.71h-2.3M412 196.96h2.3M683.5 196.96h-2.3M412 187.91h2.3M683.5 187.91h-2.3M412 180.89h2.3M683.5 180.89h-2.3M412 175.16h2.3M683.5 175.16h-2.3M412 170.31h2.3M683.5 170.31h-2.3M412 166.12h2.3M683.5 166.12h-2.3M412 162.41h2.3M683.5 162.41h-2.3M412 137.31h2.3M683.5 137.31h-2.3M412 124.56h2.3M683.5 124.56h-2.3M412 115.51h2.3M683.5 115.51h-2.3M412 108.49h2.3M683.5 108.49h-2.3M412 102.76h2.3M683.5 102.76h-2.3M412 97.91h2.3M683.5 97.91h-2.3M412 93.72h2.3M683.5 93.72h-2.3M412 90.01h2.3M683.5 90.01h-2.3M412 64.91h2.3M683.5 64.91h-2.3M412 52.16h2.3M683.5 52.16h-2.3M412 43.11h2.3M683.5 43.11h-2.3M412 36.09h2.3M683.5 36.09h-2.3M412 30.36h2.3M683.5 30.36h-2.3M412 25.51h2.3M683.5 25.51h-2.3M412 21.32h2.3M683.5 21.32h-2.3M412 17.61h2.3M683.5 17.61h-2.3" stroke="#333" stroke-width="1" fill="none"/>
<text transform="translate(405.6 18.9) scale(0.95 1)" font-size="14.2" text-anchor="end" fill="#111" >0.1</text>
<text transform="translate(405.6 91.3) scale(0.95 1)" font-size="14.2" text-anchor="end" fill="#111" >0.01</text>
<text transform="translate(405.6 163.7) scale(0.95 1)" font-size="14.2" text-anchor="end" fill="#111" >0.001</text>
<text transform="translate(405.6 236.1) scale(0.95 1)" font-size="14.2" text-anchor="end" fill="#111" >1E−4</text>
<text transform="translate(412.5 248.4) scale(0.95 1)" font-size="14.2" text-anchor="middle" fill="#111" >0.0</text>
<text transform="translate(520.9 248.4) scale(0.95 1)" font-size="14.2" text-anchor="middle" fill="#111" >0.2</text>
<text transform="translate(629.3 248.4) scale(0.95 1)" font-size="14.2" text-anchor="middle" fill="#111" >0.4</text>
<text transform="translate(548 267.7) scale(0.955 1)" font-size="14.4" text-anchor="middle" fill="#111" >Voltage [V]</text>
<text transform="translate(364 123.3) rotate(-90) scale(0.955 1)" font-size="14.4" text-anchor="middle" fill="#111">Current [A]</text>
<path d="M421.9 30.5H440.5" stroke="#ff3a3a" stroke-width="0.9"/>
<circle cx="431" cy="30.5" r="1.75" fill="#f03030"/>
<text transform="translate(445.9 33.2) scale(0.95 1)" font-size="8.2" text-anchor="start" fill="#222" >Bulk 15°</text>
<path d="M421.9 40.4H440.5" stroke="#444" stroke-width="0.9"/>
<circle cx="431" cy="40.4" r="1.75" fill="#000"/>
<text transform="translate(445.9 43.1) scale(0.95 1)" font-size="8.2" text-anchor="start" fill="#222" >Edge 15°</text>
<path d="M421.9 50.9H440.5" stroke="#ff8080" stroke-width="1.4"/>
<circle cx="431" cy="50.9" r="1.75" fill="#fff" stroke="#ff6060" stroke-width="0.6"/>
<text transform="translate(445.9 53.6) scale(0.95 1)" font-size="8.2" text-anchor="start" fill="#222" >Bulk Bernal</text>
<path d="M421.9 60.9H440.5" stroke="#666" stroke-width="1.0"/>
<circle cx="431" cy="60.9" r="1.75" fill="#fff" stroke="#666" stroke-width="0.6"/>
<text transform="translate(445.9 63.6) scale(0.95 1)" font-size="8.2" text-anchor="start" fill="#222" >Edge Bernal</text>
<text x="352.2" y="13.9" font-size="19" font-weight="bold" fill="#000">b</text>
<path d="M172.3 305.0V522.5" stroke="#666" stroke-width="0.9" stroke-dasharray="1 2.05"/>
<path d="M284.4 305.0V522.5" stroke="#666" stroke-width="0.9" stroke-dasharray="1 2.05"/>
<path d="M306.7 305.0V522.5" stroke="#666" stroke-width="0.9" stroke-dasharray="1 2.05"/>
<path d="M59.9 522.4 L198.34 304.5" fill="none" stroke="#000" stroke-width="2" stroke-linejoin="round"/>
<path d="M59.9 522.4 L331 319.43" fill="none" stroke="#000" stroke-width="2" stroke-linejoin="round"/>
<path d="M59.9 522.4 L331 491.63" fill="none" stroke="#000" stroke-width="2" stroke-linejoin="round"/>
<path d="M59.9 522.4 L61.48 522.37 L63.06 522.26 L64.64 522.09 L66.23 521.84 L67.81 521.53 L69.39 521.14 L70.97 520.69 L72.55 520.17 L74.13 519.57 L75.71 518.91 L77.29 518.18 L78.88 517.37 L80.46 516.5 L82.04 515.56 L83.62 514.54 L85.2 513.46 L86.78 512.31 L88.36 511.09 L89.94 509.8 L91.53 508.43 L93.11 507 L94.69 505.5 L96.27 503.93 L97.85 502.29 L99.43 500.58 L101.01 498.8 L102.59 496.95 L104.18 495.03 L105.76 493.04 L107.34 490.98 L108.92 488.85 L110.5 486.65 L112.08 484.38 L113.66 482.04 L115.25 479.63 L116.83 477.15 L118.41 474.6 L119.99 471.98 L121.57 469.3 L123.15 466.54 L124.73 463.71 L126.31 460.81 L127.9 457.84 L129.48 454.81 L131.06 451.7 L132.64 448.52 L134.22 445.27 L135.8 441.96 L137.38 438.57 L138.96 435.11 L140.55 431.59 L142.13 427.99 L143.71 424.33 L145.29 420.59 L146.87 416.78 L148.45 412.91 L150.03 408.96 L151.61 404.95 L153.2 400.86 L154.78 396.71 L156.36 392.48 L157.94 388.19 L159.52 383.83 L161.1 379.39 L162.68 374.89 L164.27 370.31 L165.85 365.67 L167.43 360.96 L169.01 356.17 L170.59 351.32 L172.17 346.4 L173.75 341.4 L175.33 336.34 L176.92 331.21 L178.5 326.01 L180.08 320.74 L181.66 315.39 L183.24 309.98 L184.82 304.5" fill="none" stroke="#ff0000" stroke-width="2" stroke-linejoin="round"/>
<path d="M59.9 522.4 L63.14 522.37 L66.39 522.26 L69.63 522.09 L72.88 521.84 L76.12 521.53 L79.36 521.14 L82.61 520.69 L85.85 520.17 L89.09 519.57 L92.34 518.91 L95.58 518.18 L98.83 517.37 L102.07 516.5 L105.31 515.56 L108.56 514.54 L111.8 513.46 L115.05 512.31 L118.29 511.09 L121.53 509.8 L124.78 508.43 L128.02 507 L131.27 505.5 L134.51 503.93 L137.75 502.29 L141 500.58 L144.24 498.8 L147.48 496.95 L150.73 495.03 L153.97 493.04 L157.22 490.98 L160.46 488.85 L163.7 486.65 L166.95 484.38 L170.19 482.04 L173.44 479.63 L176.68 477.15 L179.92 474.6 L183.17 471.98 L186.41 469.3 L189.65 466.54 L192.9 463.71 L196.14 460.81 L199.39 457.84 L202.63 454.81 L205.87 451.7 L209.12 448.52 L212.36 445.27 L215.61 441.96 L218.85 438.57 L222.09 435.11 L225.34 431.59 L228.58 427.99 L231.83 424.33 L235.07 420.59 L238.31 416.78 L241.56 412.91 L244.8 408.96 L248.04 404.95 L251.29 400.86 L254.53 396.71 L257.78 392.48 L261.02 388.19 L264.26 383.83 L267.51 379.39 L270.75 374.89 L274 370.31 L277.24 365.67 L280.48 360.96 L283.73 356.17 L286.97 351.32 L290.21 346.4 L293.46 341.4 L296.7 336.34 L299.95 331.21 L303.19 326.01 L306.43 320.74 L309.68 315.39 L312.92 309.98 L316.17 304.5" fill="none" stroke="#ff0000" stroke-width="2" stroke-linejoin="round"/>
<path d="M59.9 522.4 L63.33 522.39 L66.76 522.38 L70.19 522.35 L73.63 522.31 L77.06 522.26 L80.49 522.2 L83.92 522.13 L87.35 522.05 L90.78 521.96 L94.22 521.86 L97.65 521.74 L101.08 521.62 L104.51 521.48 L107.94 521.34 L111.37 521.18 L114.81 521.01 L118.24 520.83 L121.67 520.64 L125.1 520.44 L128.53 520.23 L131.96 520.01 L135.4 519.78 L138.83 519.53 L142.26 519.28 L145.69 519.01 L149.12 518.74 L152.55 518.45 L155.99 518.15 L159.42 517.84 L162.85 517.52 L166.28 517.19 L169.71 516.85 L173.14 516.5 L176.58 516.13 L180.01 515.76 L183.44 515.38 L186.87 514.98 L190.3 514.57 L193.73 514.16 L197.17 513.73 L200.6 513.29 L204.03 512.84 L207.46 512.38 L210.89 511.91 L214.32 511.42 L217.76 510.93 L221.19 510.43 L224.62 509.91 L228.05 509.39 L231.48 508.85 L234.91 508.3 L238.35 507.74 L241.78 507.18 L245.21 506.6 L248.64 506.01 L252.07 505.4 L255.5 504.79 L258.94 504.17 L262.37 503.53 L265.8 502.89 L269.23 502.23 L272.66 501.57 L276.09 500.89 L279.53 500.2 L282.96 499.5 L286.39 498.79 L289.82 498.07 L293.25 497.34 L296.68 496.6 L300.12 495.84 L303.55 495.08 L306.98 494.3 L310.41 493.52 L313.84 492.72 L317.27 491.91 L320.71 491.1 L324.14 490.27 L327.57 489.43 L331 488.57" fill="none" stroke="#ff0000" stroke-width="2" stroke-linejoin="round"/>
<path d="M60 304.5H331.5V522.5H60Z" fill="none" stroke="#333" stroke-width="1"/>
<path d="M140.2 522.5v-4.3M140.2 304.5v4.3M220.5 522.5v-4.3M220.5 304.5v4.3M300.8 522.5v-4.3M300.8 304.5v4.3" stroke="#333" stroke-width="1" fill="none"/>
<path d="M100.05 522.5v-2.3M100.05 304.5v2.3M180.35 522.5v-2.3M180.35 304.5v2.3M260.65 522.5v-2.3M260.65 304.5v2.3" stroke="#333" stroke-width="1" fill="none"/>
<path d="M60 460.2h4.3M331.5 460.2h-4.3M60 398h4.3M331.5 398h-4.3M60 335.8h4.3M331.5 335.8h-4.3" stroke="#333" stroke-width="1" fill="none"/>
<path d="M60 491.3h2.3M331.5 491.3h-2.3M60 429.1h2.3M331.5 429.1h-2.3M60 366.9h2.3M331.5 366.9h-2.3" stroke="#333" stroke-width="1" fill="none"/>
<text transform="translate(54.6 527) scale(0.95 1)" font-size="14.2" text-anchor="end" fill="#111" >0.000</text>
<text transform="translate(54.6 464.8) scale(0.95 1)" font-size="14.2" text-anchor="end" fill="#111" >0.005</text>
<text transform="translate(54.6 402.6) scale(0.95 1)" font-size="14.2" text-anchor="end" fill="#111" >0.010</text>
<text transform="translate(54.6 340.4) scale(0.95 1)" font-size="14.2" text-anchor="end" fill="#111" >0.015</text>
<text transform="translate(59.9 538.5) scale(0.95 1)" font-size="14.2" text-anchor="middle" fill="#111" >0</text>
<text transform="translate(140.2 538.5) scale(0.95 1)" font-size="14.2" text-anchor="middle" fill="#111" >200</text>
<text transform="translate(220.5 538.5) scale(0.95 1)" font-size="14.2" text-anchor="middle" fill="#111" >400</text>
<text transform="translate(300.8 538.5) scale(0.95 1)" font-size="14.2" text-anchor="middle" fill="#111" >600</text>
<text transform="translate(196.2 557.6) scale(0.955 1)" font-size="14.4" text-anchor="middle" fill="#111" >Radius [nm]</text>
<text transform="translate(12.3 412.3) rotate(-90) scale(0.955 1)" font-size="14.4" text-anchor="middle" fill="#111">Current scaled [A]</text>
<path d="M66.8 316.4H94.5" stroke="#ff3030" stroke-width="0.8"/><circle cx="80.4" cy="316.4" r="2.6" fill="#ff0000"/>
<path d="M66.8 331.3H94.5" stroke="#333" stroke-width="0.8"/><circle cx="80.4" cy="331.3" r="2.6" fill="#000"/>
<text transform="translate(100.6 321) scale(0.93 1)" font-size="12.4" text-anchor="start" fill="#ff0000" >Bulk</text>
<text transform="translate(100.6 335.8) scale(0.93 1)" font-size="12.4" text-anchor="start" fill="#111" >Edge</text>
<text transform="translate(143.6 334.3) scale(0.93 1)" font-size="12.3" text-anchor="start" fill="#111" >0.5 V</text>
<text transform="translate(223.3 365.7) scale(0.93 1)" font-size="12.3" text-anchor="start" fill="#111" >0.145 V</text>
<text transform="translate(245.2 490) scale(0.93 1)" font-size="12.3" text-anchor="start" fill="#111" >0.02 V</text>
<text x="-0.6" y="307.7" font-size="19" font-weight="bold" fill="#000">c</text>
<path d="M437.4 310.3 L463.9 320 L489.2 335.3 L515.5 350.3 L540 364.9 L567.1 383 L618.7 411.3 L670.3 435.3" fill="none" stroke="#ff1a1a" stroke-width="2" stroke-linejoin="round"/>
<path d="M422.6 377.8 L426.8 378.24 L431 378.74 L435.19 379.31 L439.39 379.95 L443.59 380.64 L447.79 381.4 L451.99 382.22 L456.19 383.1 L460.38 384.03 L464.58 385.01 L468.78 386.05 L472.98 387.13 L477.18 388.26 L481.38 389.44 L485.57 390.66 L489.77 391.92 L493.97 393.22 L498.17 394.55 L502.37 395.92 L506.57 397.32 L510.76 398.76 L514.96 400.22 L519.16 401.71 L523.36 403.23 L527.56 404.76 L531.76 406.32 L535.95 407.9 L540.15 409.5 L544.35 411.1 L548.55 412.73 L552.75 414.36 L556.95 416 L561.14 417.65 L565.34 419.3 L569.54 420.96 L573.74 422.62 L577.94 424.27 L582.14 425.93 L586.33 427.57 L590.53 429.21 L594.73 430.85 L598.93 432.47 L603.13 434.07 L607.33 435.66 L611.52 437.24 L615.72 438.79 L619.92 440.33 L624.12 441.84 L628.32 443.32 L632.52 444.78 L636.71 446.21 L640.91 447.61 L645.11 448.97 L649.31 450.3 L653.51 451.59 L657.71 452.84 L661.9 454.05 L666.1 455.22 L670.3 456.34" fill="none" stroke="#0a1aff" stroke-width="2" stroke-linejoin="round"/>
<path d="M437.3 488.2 L463.9 489.3 L489.7 491.2 L515.8 493.6 L541.3 496.5 L567.1 499.6 L594.2 502.3 L618.7 504.6 L644.5 506.6 L670.3 508.2" fill="none" stroke="#1a9a1a" stroke-width="2" stroke-linejoin="round"/>
<path d="M437.3 511.5 L489.7 511.2 L541.3 511.6 L594.2 512.4 L644.5 513.3 L670.3 513.8" fill="none" stroke="#000" stroke-width="2" stroke-linejoin="round"/>
<rect x="541.2" y="482.6" width="51.8" height="8" fill="#a2a2a2"/>
<path d="M541.8 486.7H592.4M541.8 485.2v3M592.4 485.2v3M567.4 482.4v8.4M566 482.4h2.8M566 490.8h2.8" stroke="#333" stroke-width="0.9" fill="none"/>
<path d="M555.8 460.4L562 473.6" stroke="#222" stroke-width="0.7"/><path d="M560 473.2L563.6 477L563.4 471.7Z" fill="#222"/>
<text transform="translate(484.6 455.6) scale(0.955 1)" font-size="10.2" text-anchor="start" fill="#222" >Experimental result</text>
<path d="M412 304.5H683.5V522.5H412Z" fill="none" stroke="#333" stroke-width="1"/>
<path d="M463.9 522.5v-4.3M463.9 304.5v4.3M515.5 522.5v-4.3M515.5 304.5v4.3M567.1 522.5v-4.3M567.1 304.5v4.3M618.7 522.5v-4.3M618.7 304.5v4.3M670.3 522.5v-4.3M670.3 304.5v4.3" stroke="#333" stroke-width="1" fill="none"/>
<path d="M438.1 522.5v-2.3M438.1 304.5v2.3M489.7 522.5v-2.3M489.7 304.5v2.3M541.3 522.5v-2.3M541.3 304.5v2.3M592.9 522.5v-2.3M592.9 304.5v2.3M644.5 522.5v-2.3M644.5 304.5v2.3" stroke="#333" stroke-width="1" fill="none"/>
<path d="M412 475.1h4.3M683.5 475.1h-4.3M412 427.8h4.3M683.5 427.8h-4.3M412 380.5h4.3M683.5 380.5h-4.3M412 333.2h4.3M683.5 333.2h-4.3" stroke="#333" stroke-width="1" fill="none"/>
<path d="M412 498.75h2.3M683.5 498.75h-2.3M412 451.45h2.3M683.5 451.45h-2.3M412 404.15h2.3M683.5 404.15h-2.3M412 356.85h2.3M683.5 356.85h-2.3M412 309.55h2.3M683.5 309.55h-2.3" stroke="#333" stroke-width="1" fill="none"/>
<text transform="translate(406.4 527) scale(0.95 1)" font-size="14.2" text-anchor="end" fill="#111" >0</text>
<text transform="translate(406.4 479.7) scale(0.95 1)" font-size="14.2" text-anchor="end" fill="#111" >200</text>
<text transform="translate(406.4 432.4) scale(0.95 1)" font-size="14.2" text-anchor="end" fill="#111" >400</text>
<text transform="translate(406.4 385.1) scale(0.95 1)" font-size="14.2" text-anchor="end" fill="#111" >600</text>
<text transform="translate(406.4 337.8) scale(0.95 1)" font-size="14.2" text-anchor="end" fill="#111" >800</text>
<text transform="translate(412.3 538.5) scale(0.95 1)" font-size="14.2" text-anchor="middle" fill="#111" >0.0</text>
<text transform="translate(463.9 538.5) scale(0.95 1)" font-size="14.2" text-anchor="middle" fill="#111" >0.1</text>
<text transform="translate(515.5 538.5) scale(0.95 1)" font-size="14.2" text-anchor="middle" fill="#111" >0.2</text>
<text transform="translate(567.1 538.5) scale(0.95 1)" font-size="14.2" text-anchor="middle" fill="#111" >0.3</text>
<text transform="translate(618.7 538.5) scale(0.95 1)" font-size="14.2" text-anchor="middle" fill="#111" >0.4</text>
<text transform="translate(670.3 538.5) scale(0.95 1)" font-size="14.2" text-anchor="middle" fill="#111" >0.5</text>
<text transform="translate(547.7 558.2) scale(0.955 1)" font-size="14.4" text-anchor="middle" fill="#111" >Voltage [V]</text>
<text transform="translate(371.8 412.9) rotate(-90) scale(0.955 1)" font-size="14.4" text-anchor="middle" fill="#111">Radius [nm]</text>
<text transform="translate(489.4 326.8) scale(0.93 1)" font-size="12.4" text-anchor="start" fill="#ff1a1a" >30°</text>
<text transform="translate(456.5 376.6) scale(0.93 1)" font-size="12.4" text-anchor="start" fill="#0a1aff" >15°</text>
<text transform="translate(448.2 479.7) scale(0.93 1)" font-size="12.4" text-anchor="start" fill="#1a9a1a" >5°</text>
<text transform="translate(441.6 507.5) scale(0.93 1)" font-size="12.4" text-anchor="start" fill="#111" >1.1°</text>
<text x="351.8" y="307.2" font-size="19" font-weight="bold" fill="#000">d</text>
</svg>
</body></html>
